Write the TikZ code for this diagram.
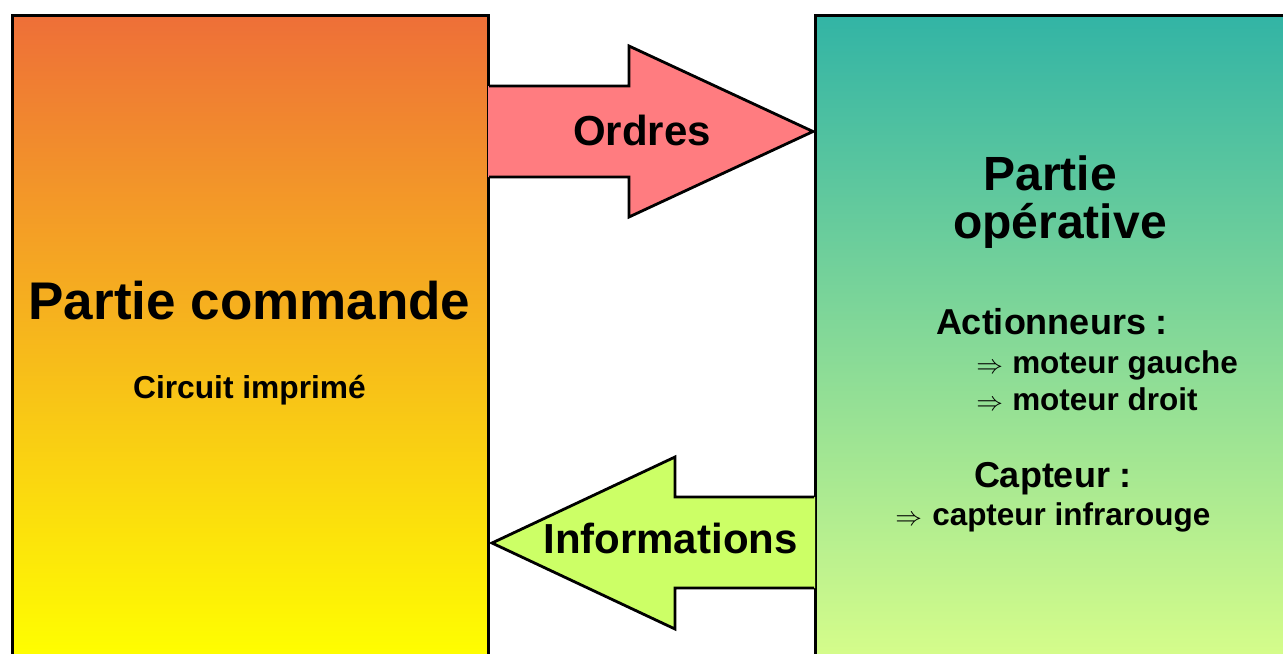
\documentclass[tikz,border=0pt]{standalone}
\usepackage{fontspec}
\setmainfont{Liberation Sans}
\usepackage{graphicx}
\definecolor{orangetop}{RGB}{238,111,56}
\definecolor{yellowbot}{RGB}{255,255,0}
\definecolor{tealtop}{RGB}{50,180,165}
\definecolor{greenbot}{RGB}{214,253,138}
\definecolor{ordresfill}{RGB}{255,124,128}
\definecolor{infofill}{RGB}{204,255,102}
\newcommand\setfs[1]{\fontsize{#1}{#1}\selectfont}
\begin{document}
\begin{tikzpicture}[x=0.75pt,y=-0.75pt,
  boxline/.style={line width=2.25pt, line join=miter},
  arrline/.style={line width=2.1pt, line join=miter},
  lbl/.style={inner sep=0pt, anchor=base, font=\bfseries},
  item/.style={inner sep=0pt, anchor=base west, font=\bfseries\setfs{23.6pt}},
  impl/.style={inner sep=0pt, anchor=base west}]
\useasboundingbox (0,0) rectangle (1283,654);
\clip (0,0) rectangle (1283,654);
% left box
\path[top color=orangetop, bottom color=yellowbot] (12,15) rectangle (488,660);
\draw[boxline] (12,680) -- (12,15) -- (488,15) -- (488,680);
% right box
\path[top color=tealtop, bottom color=greenbot] (815.5,15) rectangle (1300,660);
\draw[boxline] (815.5,680) -- (815.5,15) -- (1300,15);
% Ordres arrow
\fill[ordresfill] (488,86) -- (629,86) -- (629,46) -- (813,131.5) -- (629,217) -- (629,177) -- (488,177) -- cycle;
\draw[arrline] (489,86) -- (629,86) -- (629,46) -- (813,131.5) -- (629,217) -- (629,177) -- (489,177);
% Informations arrow
\fill[infofill] (815,497) -- (675,497) -- (675,457) -- (492,543) -- (675,629) -- (675,588) -- (815,588) -- cycle;
\draw[arrline] (814,497) -- (675,497) -- (675,457) -- (492,543) -- (675,629) -- (675,588) -- (814,588);
% texts
\node[lbl, font=\bfseries\setfs{39.75pt}] (pc) at (249.5,319) {Partie commande};
\node[lbl, font=\bfseries\setfs{23.8pt}] (ci) at (249.5,398) {Circuit imprimé};
\node[lbl, font=\bfseries\setfs{31.5pt}] (ord) at (642,145) {Ordres};
\node[lbl, font=\bfseries\setfs{31.5pt}] (inf) at (670.5,553) {Informations};
\node[lbl, font=\bfseries\setfs{36pt}] (po1) at (1050,190) {Partie};
\node[lbl, font=\bfseries\setfs{36pt}] (po2) at (1060,238) {opérative};
\node[lbl, font=\bfseries\setfs{27pt}] (act) at (1052,334) {Actionneurs :};
\node[impl] (a1) at (976,373) {\scalebox{2.0}{$\Rightarrow$}};
\node[item] (m1) at (1012,373) {moteur gauche};
\node[impl] (a2) at (976,410) {\scalebox{2.0}{$\Rightarrow$}};
\node[item] (m2) at (1012,410) {moteur droit};
\node[lbl, font=\bfseries\setfs{27pt}] (cap) at (1053,487) {Capteur :};
\node[impl] (a3) at (895,525) {\scalebox{2.0}{$\Rightarrow$}};
\node[item] (c1) at (932,525) {capteur infrarouge};
\end{tikzpicture}
\end{document}
